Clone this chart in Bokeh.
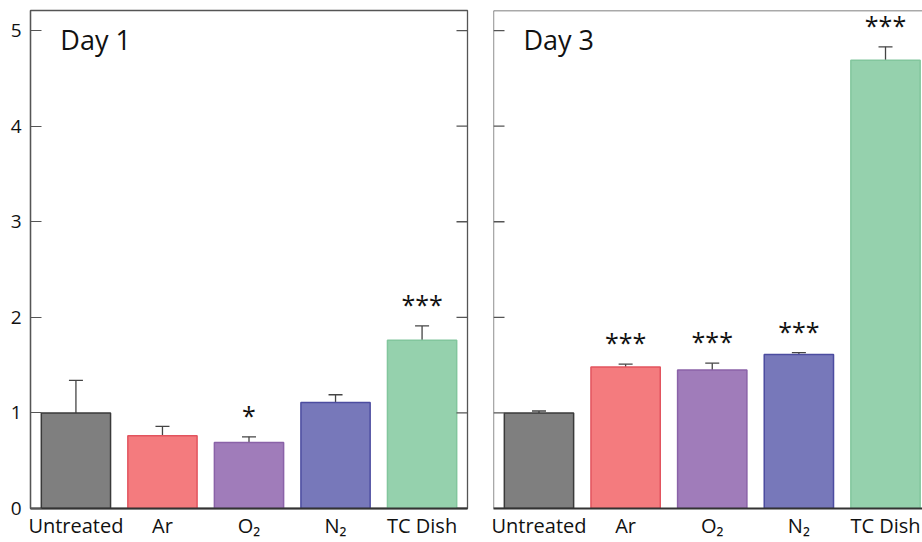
from math import pi
from bokeh.plotting import figure
from bokeh.layouts import row
from bokeh.models import (ColumnDataSource, FixedTicker, Range1d,
                          Whisker, TeeHead, Label, Span)
from bokeh.embed import file_html
from bokeh.resources import INLINE
from bokeh.core.properties import value

categories = ["Untreated", "Ar", "O\u2082", "N\u2082", "TC Dish"]
day1_mean = [1.00, 0.76, 0.69, 1.11, 1.76]
day1_err = [0.34, 0.10, 0.06, 0.08, 0.15]
day1_sig = ["", "", "*", "", "***"]
day3_mean = [1.00, 1.48, 1.45, 1.61, 4.69]
day3_err = [0.02, 0.03, 0.07, 0.02, 0.14]
day3_sig = ["", "***", "***", "***", "***"]
y_ticks = [0, 1, 2, 3, 4, 5]

fills = ["#7f7f7f", "#f47b7e", "#a07cba", "#7778ba", "#95d1ad"]
edges = ["#3a3a3a", "#e2545e", "#8a62a8", "#4c4ca0", "#82c69d"]

FONT = "Open Sans"
FRAME = "#555555"
Y_END = 5.21
X_START = -0.525


def make_panel(title, means, errs, sigs, width, border_left, border_right,
               x_end, show_labels, right_frame):
    xs = list(range(len(categories)))
    p = figure(width=width, height=542, output_backend="svg", toolbar_location=None,
               x_range=Range1d(X_START, x_end), y_range=Range1d(0, Y_END),
               min_border_left=border_left, min_border_right=border_right,
               min_border_top=10, min_border_bottom=34)
    p.grid.visible = False
    p.background_fill_color = "white"
    p.border_fill_color = "white"
    if right_frame:
        p.outline_line_color = FRAME
        p.outline_line_width = 1.3
    else:
        p.outline_line_color = None
        p.add_layout(Span(location=Y_END, dimension="width", line_color=FRAME,
                          line_width=1.3))

    src = ColumnDataSource(dict(x=xs, top=means, upper=[m + e for m, e in zip(means, errs)],
                                fill=fills, edge=edges,
                                sy=[m + e + 0.23 for m, e in zip(means, errs)], sig=sigs))
    p.vbar(x="x", top="top", bottom=0, width=0.8, source=src, fill_color="fill",
           line_color="edge", line_width=1.5)
    p.add_layout(Whisker(base="x", lower="top", upper="upper", source=src,
                         line_color="#444444", line_width=1.3, lower_head=None,
                         upper_head=TeeHead(size=14, line_color="#444444", line_width=1.3)))
    p.text(x="x", y="sy", text="sig", source=src, text_align="center",
           text_baseline="middle", text_font=value(FONT), text_font_size="25px",
           text_color="#111111")

    # x axis
    xa = p.xaxis[0]
    xa.ticker = FixedTicker(ticks=xs)
    xa.major_label_overrides = {i: c for i, c in enumerate(categories)}
    xa.major_tick_line_color = None
    xa.minor_tick_line_color = None
    xa.axis_line_color = "#333333"
    xa.axis_line_width = 2
    xa.major_label_text_font = FONT
    xa.major_label_text_font_size = "20px"
    xa.major_label_text_color = "#111111"
    xa.major_label_standoff = -3

    if show_labels:
        ya = p.yaxis[0]
        ya.ticker = FixedTicker(ticks=y_ticks)
        ya.major_tick_in = 11
        ya.major_tick_out = 0
        ya.major_tick_line_color = FRAME
        ya.minor_tick_line_color = None
        ya.axis_line_color = FRAME
        ya.axis_line_width = 1.3
        ya.major_label_text_font = FONT
        ya.major_label_text_color = "#111111"
        ya.major_label_standoff = 9
        ya.major_label_text_font_size = "19px"
    else:
        p.yaxis.visible = False
        p.add_layout(Span(location=X_START, dimension="height", line_color=FRAME,
                          line_width=1.3))
        p.ray(x=[X_START] * len(y_ticks), y=y_ticks, length=11, angle=0,
              length_units="screen", line_color=FRAME, line_width=1.3)

    if right_frame:
        p.ray(x=[x_end] * len(y_ticks), y=y_ticks, length=11, angle=pi,
              length_units="screen", line_color=FRAME, line_width=1.3)

    p.add_layout(Label(x=-0.18, y=4.91, text=title, text_font=FONT,
                       text_font_size="27px", text_color="#111111",
                       text_baseline="alphabetic"))
    return p


p1 = make_panel("Day 1", day1_mean, day1_err, day1_sig, 480, 30, 13, 4.525, True, True)
p2 = make_panel("Day 3", day3_mean, day3_err, day3_sig, 442, 13, 0, 4.427, False, False)

layout = row(p1, p2)
open("out.html", "w").write(file_html(layout, INLINE))
